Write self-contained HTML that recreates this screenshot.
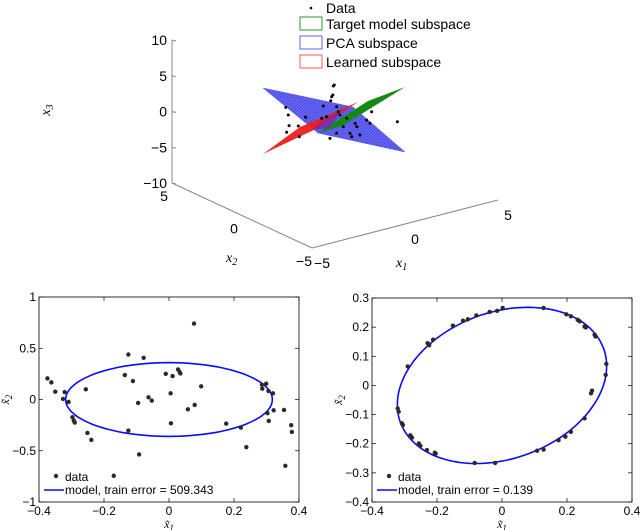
<!DOCTYPE html>
<html><head><meta charset="utf-8"><style>
body{margin:0;background:#fff;}
svg{display:block;font-family:"Liberation Sans",sans-serif;}
.t{font-size:12px;fill:#000}
.it{font-family:"Liberation Serif",serif;font-style:italic;font-size:14px}
</style></head><body>
<svg id="fig" width="640" height="530" viewBox="0 0 640 530">
<defs>
<pattern id="hatch" width="3" height="3" patternUnits="userSpaceOnUse"><rect width="3" height="3" fill="#6a6af2"/><path d="M0,3L3,0" stroke="#3c3ce0" stroke-width="0.7"/></pattern>
</defs>
<g id="p3d"></g>
<g id="pl"></g>
<g id="pr"></g>
</svg>
<script>
// ---- 3D plot data ----
const d3x1 = [-2.65,-2.51,-2.47,-2.60,-1.97,-1.92,-1.58,-0.63,-0.23,-0.18,-0.12,-0.09,-0.04,0.09,0.18,-0.27,0.27,0.45,0.63,0.81,0.9,1.08,1.17,1.34,1.7,1.88,1.97,3.35,-0.72,-0.45,0.09];
const d3x3 = [3.55,2.38,0.87,0.03,0.49,-1.05,1.44,2.38,2.85,3.38,3.58,4.81,4.92,1.8,1.03,-2.38,0.52,-1.24,-0.18,-2.41,-2.94,-1.19,-1.72,-3.0,-1.15,-1.72,-0.17,-2.49,0.71,0.76,-1.92];
const zTicks = [10,5,0,-5,-10];
const x1Ticks = [-5,0,5];
const x2Ticks = [5,0,-5];
// ---- left plot data ----
const lx = [-0.374,-0.362,-0.350,-0.326,-0.321,-0.309,-0.297,-0.293,-0.290,-0.256,-0.251,-0.239,-0.170,-0.136,-0.125,-0.125,-0.111,-0.095,-0.092,-0.078,-0.063,-0.053,-0.010,0.005,0.006,0.011,0.028,0.033,0.035,0.058,0.077,0.079,0.099,0.176,0.221,0.238,0.286,0.287,0.299,0.303,0.306,0.307,0.320,0.322,0.354,0.358,0.376,0.378];
const ly = [0.206,0.167,0.076,0.005,0.073,-0.024,-0.173,-0.206,-0.225,0.099,-0.326,-0.394,-0.744,0.238,0.439,-0.303,0.180,-0.034,-0.536,0.407,0.021,-0.011,0.251,0.060,-0.232,0.229,0.293,0.267,0.254,-0.096,0.741,-0.053,0.128,-0.235,-0.274,-0.465,0.144,0.105,0.154,-0.134,0.083,-0.209,0.060,-0.105,-0.102,-0.647,-0.251,-0.316];
const lEll = [0.0, 0.0, 0.318, 0.36, 0.0]; // cx, cy, a, b, phase
const lXTicks = [-0.4,-0.2,0,0.2,0.4];
const lYTicks = [1,0.5,0,-0.5,-1];
// ---- right plot data ----
const rx = [-0.321,-0.318,-0.308,-0.305,-0.290,-0.282,-0.277,-0.256,-0.251,-0.231,-0.229,-0.224,-0.212,-0.207,-0.204,-0.151,-0.120,-0.105,-0.079,-0.038,-0.015,0.002,-0.084,-0.021,0.108,0.128,0.128,0.174,0.195,0.212,0.198,0.212,0.233,0.239,0.254,0.258,0.285,0.288,0.254,0.274,0.277,0.319,0.321];
const ry = [-0.079,-0.090,-0.130,-0.136,0.065,-0.171,-0.179,-0.199,-0.207,-0.222,0.145,0.138,0.157,-0.231,-0.234,0.205,0.222,0.227,0.240,0.252,0.256,0.266,-0.266,-0.266,-0.224,-0.220,0.266,-0.188,-0.176,-0.159,0.244,0.237,0.225,0.220,0.202,0.199,0.174,0.168,-0.113,-0.027,-0.018,0.036,0.074];
const rEll = [0.0, 0.0, 0.322, 0.268, 0.25];
const rXTicks = [-0.4,-0.2,0,0.2,0.4];
const rYTicks = [0.3,0.2,0.1,0,-0.1,-0.2,-0.3,-0.4];

const NS='http://www.w3.org/2000/svg';
function mk(parent,tag,attrs,text){const e=document.createElementNS(NS,tag);for(const k in attrs)e.setAttribute(k,attrs[k]);if(text!==undefined)e.textContent=text;parent.appendChild(e);return e;}

// ===== 3D =====
const g3=document.getElementById('p3d');
function proj(x1,x2,x3){const a=(x1+5)/10,b=(x2+5)/10,c=(x3+10)/20;return [312+a*186-b*140,248-a*48-b*65-c*143];}
let e;
let o=proj(-5,5,-10),t=proj(-5,5,10);
e=mk(g3,'line',{x1:o[0],y1:o[1],x2:t[0],y2:t[1],stroke:'#888','stroke-width':1});


let c0=proj(-5,-5,-10);
e=mk(g3,'line',{x1:o[0],y1:o[1],x2:c0[0],y2:c0[1],stroke:'#888','stroke-width':1});


let c1=proj(5,-5,-10);
e=mk(g3,'line',{x1:c0[0],y1:c0[1],x2:c1[0],y2:c1[1],stroke:'#888','stroke-width':1});


zTicks.forEach(v=>{const p=proj(-5,5,v);
 mk(g3,'line',{x1:p[0],y1:p[1],x2:p[0]+4,y2:p[1]+1,stroke:'#888'});
 e=mk(g3,'text',{x:p[0]-5,y:p[1]+5,'text-anchor':'end',style:'font-size:14px'},String(v).replace('-','\u2212'));
 
 });
x2Ticks.forEach(v=>{const p=proj(-5,v,-10);
 e=mk(g3,'text',{x:p[0]-8,y:p[1]+18,'text-anchor':'middle',style:'font-size:14px'},String(v).replace('-','\u2212'));
 
 });
x1Ticks.forEach(v=>{const p=proj(v,-5,-10);
 e=mk(g3,'text',{x:p[0]+10,y:p[1]+20,'text-anchor':'middle',style:'font-size:14px'},String(v).replace('-','\u2212'));
 
 });
e=mk(g3,'text',{class:'it',transform:'translate(50,110) rotate(-90)','text-anchor':'middle'});
e.innerHTML='x<tspan dy="3" font-size="10">3</tspan>';


e=mk(g3,'text',{class:'it',x:226,y:262});
e.innerHTML='x<tspan dy="3" font-size="10">2</tspan>';


e=mk(g3,'text',{class:'it',x:396,y:267});
e.innerHTML='x<tspan dy="3" font-size="10">1</tspan>';


// planes
e=mk(g3,'polygon',{points:'263,88 353,107 405,152 318,133',fill:'url(#hatch)',stroke:'#5050f0','stroke-width':0.5});


e=mk(g3,'polygon',{points:'263,154 300,127 358,102 318,128',fill:'#ee1c1c','fill-opacity':0.95});


e=mk(g3,'polygon',{points:'318,133 368,101 405,87 342,126',fill:'#138a13'});


e=mk(g3,'polygon',{points:'312,130 325,118 342,110 330,128',fill:'#7a2a9a','fill-opacity':0.7});


d3x1.forEach((v,i)=>{const p=proj(v,0,d3x3[i]);
 e=mk(g3,'circle',{cx:p[0],cy:p[1],r:1.5,fill:'#000'});
 
 });
// legend
const lg=mk(g3,'g',{});


mk(lg,'circle',{cx:311,cy:8,r:1.3,fill:'#000'});
mk(lg,'text',{x:326,y:13,style:'font-size:14px'},'Data');
[['#2a9a2a','#b8e0b8','Target model subspace'],['#6060ff','#8080ff','PCA subspace'],['#ff5a5a','#ffb0b0','Learned subspace']].forEach((L,i)=>{
 const y=17+i*19;
 mk(lg,'rect',{x:300,y:y,width:22,height:13,fill:'#fff',stroke:L[0],'stroke-width':1});
 e=mk(lg,'text',{x:326,y:y+12,style:'font-size:14px'},L[2]);
 
 
});

// ===== 2D plots =====
function plot2d(gid,box,xr,yr,xs,ys,ell,xt,yt,err){
 const g=document.getElementById(gid);
 const [L,T,R,B]=box;
 const X=v=>L+(v-xr[0])/(xr[1]-xr[0])*(R-L);
 const Y=v=>B-(v-yr[0])/(yr[1]-yr[0])*(B-T);
 e=mk(g,'rect',{x:L,y:T,width:R-L,height:B-T,fill:'#fff',stroke:'#000','stroke-width':0.8});
 
 
 const fmt=v=>(v<0?'\u2212':'')+String(Math.abs(v));
 xt.forEach(v=>{const x=X(v);mk(g,'line',{x1:x,y1:B,x2:x,y2:B-4,stroke:'#000','stroke-width':0.7});mk(g,'line',{x1:x,y1:T,x2:x,y2:T+4,stroke:'#000','stroke-width':0.7});
  e=mk(g,'text',{x:x,y:B+13,'text-anchor':'middle',class:'t'},fmt(v));
  
  });
 yt.forEach(v=>{const y=Y(v);mk(g,'line',{x1:L,y1:y,x2:L+4,y2:y,stroke:'#000','stroke-width':0.7});mk(g,'line',{x1:R,y1:y,x2:R-4,y2:y,stroke:'#000','stroke-width':0.7});
  e=mk(g,'text',{x:L-3,y:y+4,'text-anchor':'end',class:'t'},fmt(v));
  
  });
 let d='';
 for(let k=0;k<=120;k++){const th=k/120*2*Math.PI;const px=ell[0]+ell[2]*Math.cos(th),py=ell[1]+ell[3]*Math.sin(th+ell[4]);d+=(k?'L':'M')+X(px).toFixed(1)+','+Y(py).toFixed(1);}
 e=mk(g,'path',{d:d+'Z',fill:'none',stroke:'#0a0aff','stroke-width':1.6});
 
 
 xs.forEach((v,i)=>{e=mk(g,'circle',{cx:X(v),cy:Y(ys[i]),r:2.2,fill:'#2a2a2a'});
  
  });
 const lg=mk(g,'g',{});
 
 
 mk(lg,'circle',{cx:L+17,cy:B-26,r:2.2,fill:'#2a2a2a'});
 mk(lg,'text',{x:L+26,y:B-21,class:'t'},'data');
 mk(lg,'line',{x1:L+5,y1:B-12,x2:L+25,y2:B-12,stroke:'#0a0aff','stroke-width':1.6});
 mk(lg,'text',{x:L+26,y:B-8,class:'t'},'model, train error = '+err);
 e=mk(g,'text',{x:(L+R)/2,y:B+26,'text-anchor':'middle',class:'it',style:'font-size:12px'});
 e.innerHTML='x̃<tspan dy="3" font-size="9">1</tspan>';
 
 
 e=mk(g,'text',{transform:`translate(${L-30},${(T+B)/2}) rotate(-90)`,'text-anchor':'middle',class:'it',style:'font-size:12px'});
 e.innerHTML='x̃<tspan dy="3" font-size="9">2</tspan>';
 
 
}
plot2d('pl',[39,297,299,502],[-0.4,0.4],[-1,1],lx,ly,lEll,lXTicks,lYTicks,'509.343');
plot2d('pr',[372,298,632,502],[-0.4,0.4],[-0.4,0.3],rx,ry,rEll,rXTicks,rYTicks,'0.139');
</script>
</body></html>
